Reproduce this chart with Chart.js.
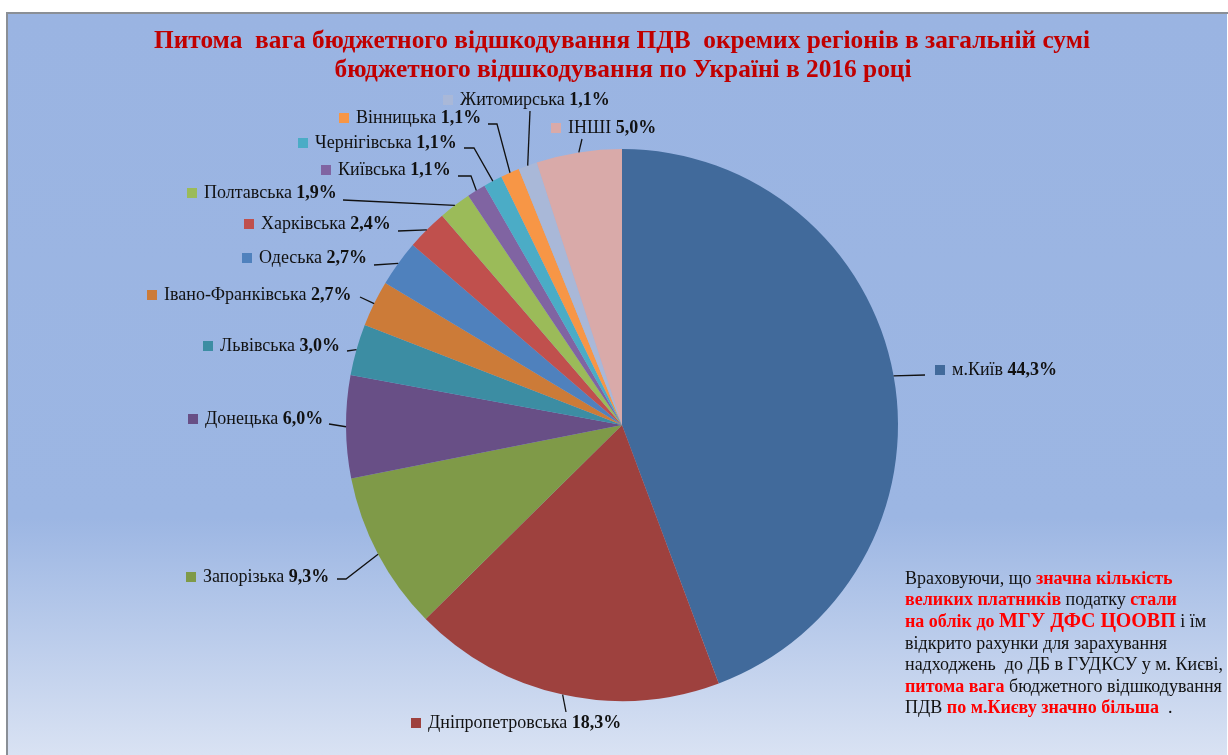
<!DOCTYPE html>
<html>
<head>
<meta charset="utf-8">
<script src="https://cdn.jsdelivr.net/npm/chart.js@4.4.1/dist/chart.umd.min.js"></script>
<style>
  html, body { margin: 0; padding: 0; background: #fff; }
  #wrap { width: 1228px; height: 755px; }
</style>
</head>
<body>
<div id="wrap"><canvas id="pie" width="1228" height="755"></canvas></div>
<script>
// ---------- Data ----------
const REGIONS = [
  "м.Київ", "Дніпропетровська", "Запорізька", "Донецька", "Львівська",
  "Івано-Франківська", "Одеська", "Харківська", "Полтавська", "Київська",
  "Чернігівська", "Вінницька", "Житомирська", "ІНШІ"
];
const SHARES = [44.3, 18.3, 9.3, 6.0, 3.0, 2.7, 2.7, 2.4, 1.9, 1.1, 1.1, 1.1, 1.1, 5.0];

const TITLE_LINES = [
  "Питома  вага бюджетного відшкодування ПДВ  окремих регіонів в загальній сумі",
  "бюджетного відшкодування по Україні в 2016 році"
];

// each line: list of [text, kind]  kind: n = normal, r = red bold, R = big red bold
const NOTE_LINES = [
  [["Враховуючи, що ", "n"], ["значна кількість", "r"]],
  [["великих платників", "r"], [" податку ", "n"], ["стали", "r"]],
  [["на облік до ", "r"], ["МГУ ДФС ЦООВП", "R"], [" і їм", "n"]],
  [["відкрито рахунки для зарахування", "n"]],
  [["надходжень  до ДБ в ГУДКСУ у м. Києві,", "n"]],
  [["питома вага", "r"], [" бюджетного відшкодування", "n"]],
  [["ПДВ ", "n"], ["по м.Києву значно більша", "r"], ["  .", "n"]]
];

// ---------- Style / layout ----------
const COLORS = [
  "#416a9b", "#9e413e", "#7f9a48", "#684f86", "#3c8da3",
  "#cc7b38", "#4f81bd", "#c0504d", "#9bbb59", "#8064a2",
  "#4bacc6", "#f79646", "#a9b8d8", "#d9aaa9"
];

// square-left x, text centre y, leader start, optional elbow
const LABEL_LAYOUT = [
  { sx: 935, cy: 370, a: [925, 375] },
  { sx: 411, cy: 723, a: [566, 712] },
  { sx: 186, cy: 577, a: [337, 579], e: [346, 579] },
  { sx: 188, cy: 419, a: [329, 424] },
  { sx: 203, cy: 346, a: [347, 351] },
  { sx: 147, cy: 295, a: [360, 297] },
  { sx: 242, cy: 258, a: [374, 265] },
  { sx: 244, cy: 224, a: [398, 231] },
  { sx: 187, cy: 193, a: [343, 200] },
  { sx: 321, cy: 170, a: [458, 176], e: [471, 176] },
  { sx: 298, cy: 143, a: [464, 148], e: [474, 148] },
  { sx: 339, cy: 118, a: [488, 124], e: [497, 124] },
  { sx: 443, cy: 100, a: [530, 111] },
  { sx: 551, cy: 128, a: [582, 139] }
];

const SERIF = '"Liberation Serif", "Times New Roman", serif';

function pct(v) {
  return v.toFixed(1).replace(".", ",") + "%";
}

// ---------- Plugins ----------
const framePlugin = {
  id: "frame",
  beforeDraw(chart) {
    const ctx = chart.ctx;
    ctx.save();
    ctx.fillStyle = "#ffffff";
    ctx.fillRect(0, 0, chart.width, chart.height);
    const g = ctx.createLinearGradient(0, 14, 0, 755);
    g.addColorStop(0, "#9ab4e2");
    g.addColorStop(0.68, "#9cb6e3");
    g.addColorStop(1, "#d9e2f3");
    ctx.fillStyle = g;
    ctx.fillRect(8, 14, 1219, 741);
    ctx.fillStyle = "#8a8f96";
    ctx.fillRect(6, 12, 1222, 2);
    ctx.fillRect(6, 12, 2, 743);

    // title
    ctx.fillStyle = "#c00000";
    ctx.font = "bold 26px " + SERIF;
    ctx.textAlign = "center";
    ctx.textBaseline = "alphabetic";
    ctx.fillText(TITLE_LINES[0], 622, 48, 936);
    ctx.fillText(TITLE_LINES[1], 623, 77, 577);
    ctx.restore();
  }
};

const labelPlugin = {
  id: "sliceLabels",
  afterDatasetsDraw(chart) {
    const ctx = chart.ctx;
    const meta = chart.getDatasetMeta(0);
    ctx.save();
    meta.data.forEach((arc, i) => {
      const p = arc.getProps(["x", "y", "startAngle", "endAngle", "outerRadius"], true);
      const mid = (p.startAngle + p.endAngle) / 2;
      const ex = p.x + Math.cos(mid) * p.outerRadius;
      const ey = p.y + Math.sin(mid) * p.outerRadius;
      const L = LABEL_LAYOUT[i];

      ctx.strokeStyle = "#111";
      ctx.lineWidth = 1.3;
      ctx.beginPath();
      ctx.moveTo(L.a[0], L.a[1]);
      if (L.e) ctx.lineTo(L.e[0], L.e[1]);
      ctx.lineTo(ex, ey);
      ctx.stroke();

      ctx.fillStyle = COLORS[i];
      ctx.fillRect(L.sx, L.cy - 5, 10, 10);

      ctx.textAlign = "left";
      ctx.textBaseline = "middle";
      ctx.fillStyle = "#111";
      ctx.font = "18px " + SERIF;
      const name = REGIONS[i] + " ";
      ctx.fillText(name, L.sx + 17, L.cy);
      const w = ctx.measureText(name).width;
      ctx.font = "bold 18px " + SERIF;
      ctx.fillText(pct(SHARES[i]), L.sx + 17 + w, L.cy);
    });

    // side note
    ctx.textAlign = "left";
    ctx.textBaseline = "middle";
    NOTE_LINES.forEach((line, li) => {
      let x = 905;
      const y = 579 + li * 21.6;
      line.forEach(([text, kind]) => {
        if (kind === "n") {
          ctx.font = "18px " + SERIF;
          ctx.fillStyle = "#111";
        } else if (kind === "r") {
          ctx.font = "bold 18px " + SERIF;
          ctx.fillStyle = "#ff0000";
        } else {
          ctx.font = "bold 20px " + SERIF;
          ctx.fillStyle = "#ff0000";
        }
        ctx.fillText(text, x, y);
        x += ctx.measureText(text).width;
      });
    });
    ctx.restore();
  }
};

// ---------- Chart ----------
const ctx = document.getElementById("pie").getContext("2d");
new Chart(ctx, {
  type: "pie",
  data: {
    labels: REGIONS,
    datasets: [{
      data: SHARES,
      backgroundColor: COLORS,
      borderWidth: 0
    }]
  },
  options: {
    responsive: false,
    animation: false,
    layout: { padding: { left: 346, right: 330, top: 149, bottom: 54 } },
    plugins: {
      legend: { display: false },
      title: { display: false },
      tooltip: { enabled: false }
    }
  },
  plugins: [framePlugin, labelPlugin]
});
</script>
</body>
</html>
